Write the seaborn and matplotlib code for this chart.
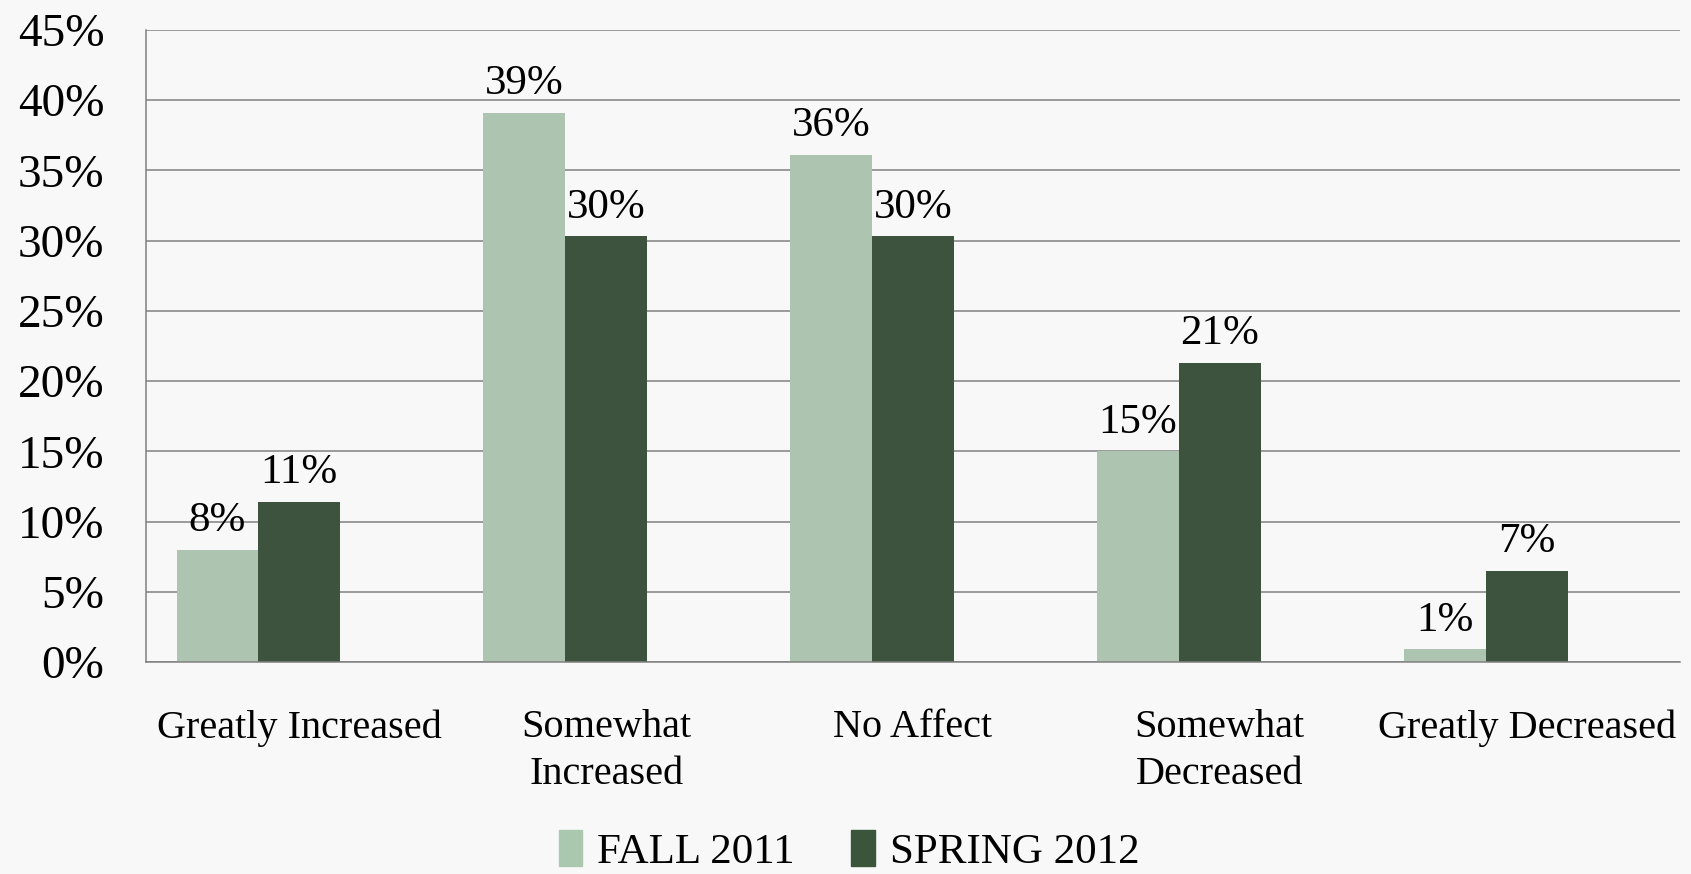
import matplotlib
matplotlib.use("Agg")
import matplotlib.pyplot as plt
import matplotlib.patches as mpatches
import pandas as pd
import seaborn as sns

# Survey answers, percent of respondents
categories = ["Greatly Increased", "Somewhat\nIncreased", "No Affect",
              "Somewhat\nDecreased", "Greatly Decreased"]
fall_2011 = [8.0, 39.1, 36.1, 15.0, 0.9]
spring_2012 = [11.4, 30.3, 30.3, 21.3, 6.5]
series = ["FALL 2011", "SPRING 2012"]
yticks = [0, 5, 10, 15, 20, 25, 30, 35, 40, 45]

light = "#a9c8ad"
dark = "#3a563a"
bg = "#f8f8f8"

df = pd.DataFrame({
    "answer": categories * 2,
    "pct": fall_2011 + spring_2012,
    "term": [series[0]] * len(categories) + [series[1]] * len(categories),
})

sns.set_theme(style="white")
plt.rcParams["font.family"] = ["Liberation Serif", "DejaVu Serif"]
plt.rcParams["text.color"] = "black"
plt.rcParams["xtick.color"] = "black"
plt.rcParams["ytick.color"] = "black"

fig = plt.figure(figsize=(16.91, 8.74), dpi=100, facecolor=bg)
ax = fig.add_axes([0.0863, 0.2426, 0.9072, 0.7231])
ax.set_facecolor(bg)

# the original chart keeps room for a third (empty) series in each group
sns.barplot(data=df, x="answer", y="pct", hue="term",
            order=categories, hue_order=series + ["blank"],
            palette={series[0]: light, series[1]: dark, "blank": bg},
            width=0.8, linewidth=0, legend=False, ax=ax)

for cont in ax.containers[:2]:
    labels = [f"{int(v + 0.5)}%" for v in cont.datavalues]
    ax.bar_label(cont, labels=labels, padding=7, fontsize=31, color="black")

ax.set_xlim(-0.5, len(categories) - 0.5)
ax.set_ylim(0, 45)
ax.set_yticks(yticks)
ax.set_yticklabels([f"{t}%" for t in yticks], fontsize=34)
ax.tick_params(axis="y", length=0, pad=30)
ax.tick_params(axis="x", length=0, pad=34)
for lab in ax.get_xticklabels():
    lab.set_fontsize(29)
    lab.set_linespacing(1.35)
    lab.set_verticalalignment("top")
ax.set_xlabel("")
ax.set_ylabel("")

ax.yaxis.grid(True, color="#808080", linewidth=1.1)
ax.set_axisbelow(True)
for side in ["top", "right"]:
    ax.spines[side].set_visible(False)
for side in ["left", "bottom"]:
    ax.spines[side].set_color("#808080")
    ax.spines[side].set_linewidth(1.1)

handles = [mpatches.Patch(color=light, label=series[0]),
           mpatches.Patch(color=dark, label=series[1])]
fig.legend(handles=handles, loc="center", bbox_to_anchor=(0.502, 0.026),
           ncol=2, frameon=False, fontsize=31, handlelength=0.55,
           handleheight=0.9, handletextpad=0.35, columnspacing=1.3,
           borderpad=0.1)

fig.savefig("out.png", dpi=100, facecolor=bg)
